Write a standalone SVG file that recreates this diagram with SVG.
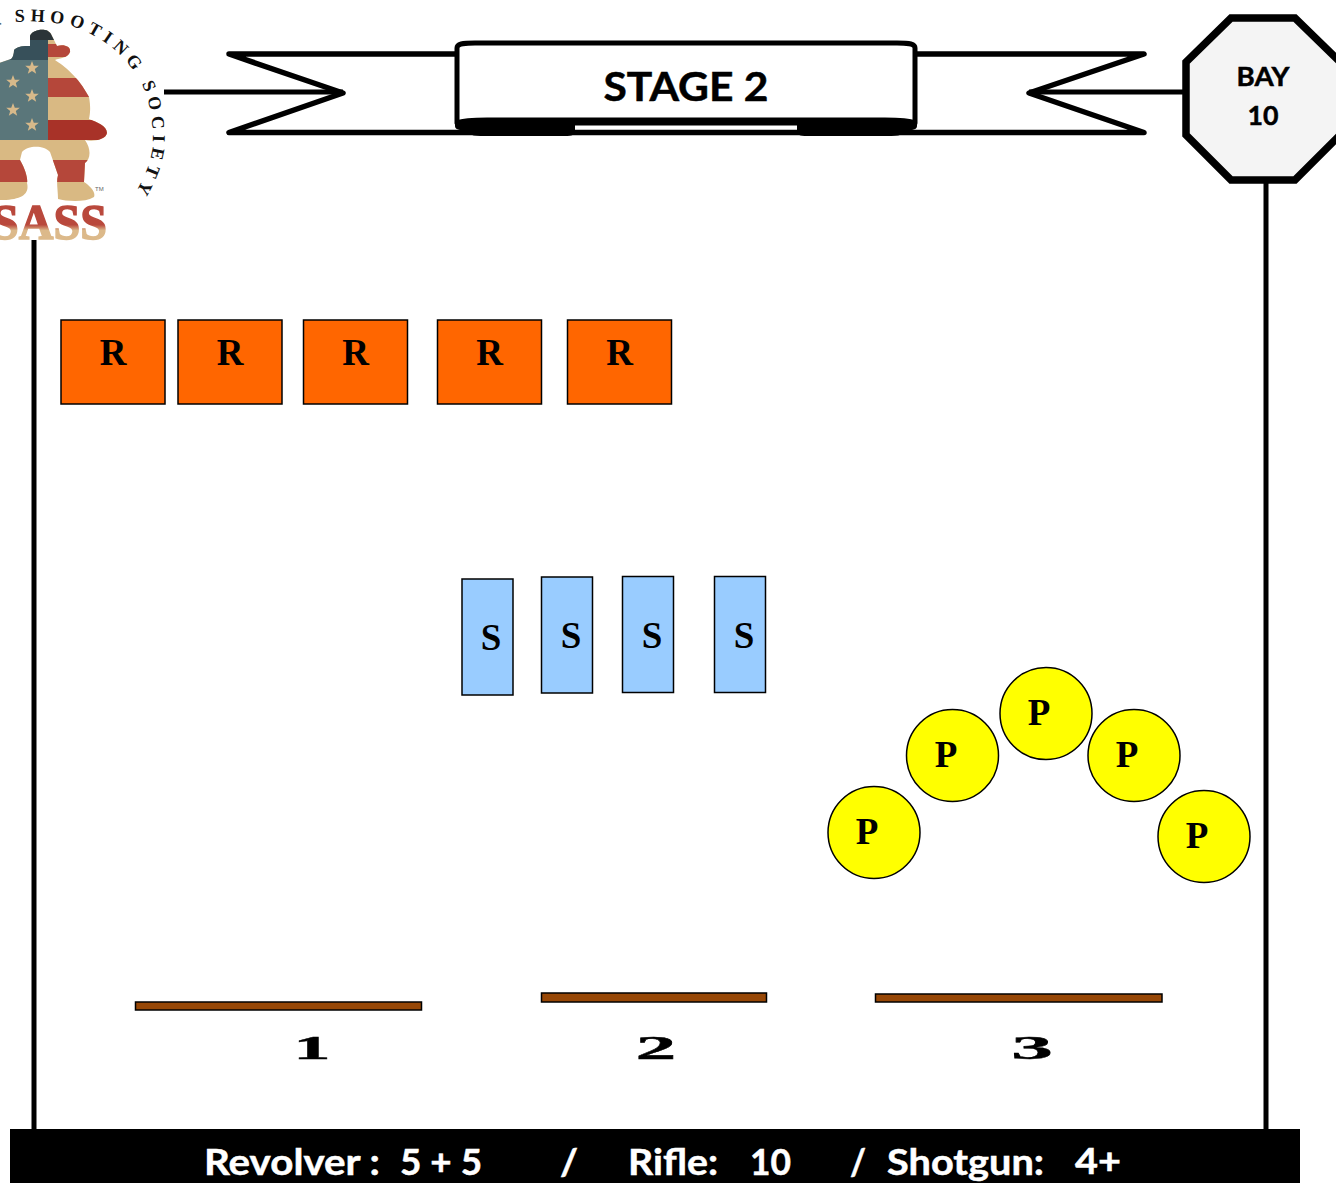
<svg xmlns="http://www.w3.org/2000/svg" width="1336" height="1183" viewBox="0 0 1336 1183">
<style>
.ln{fill:none;stroke:#000;stroke-width:5.500;stroke-linecap:round;stroke-linejoin:round}
.wall{fill:none;stroke:#000;stroke-width:5}
.t{fill:#ff6600;stroke:#000;stroke-width:1.500}
.s{fill:#99ccff;stroke:#000;stroke-width:1.500}
.p{fill:#ffff00;stroke:#000;stroke-width:1.500}
.b{fill:#974706;stroke:#000;stroke-width:1.500}
.lab{font-family:"Liberation Serif",serif;font-weight:700;font-size:37px;text-anchor:middle;fill:#000}
.cal{font-family:Lato,"Liberation Sans",sans-serif;font-weight:700;stroke:#000;stroke-width:.5}
.foot{font-family:Lato,"Liberation Sans",sans-serif;font-weight:700;font-size:37px;fill:#fff;stroke:#fff;stroke-width:.5}
.num{font-family:"Liberation Serif",serif;font-weight:700;font-size:34px;fill:#000;stroke:#000;stroke-width:.4;text-anchor:middle}
.arc{font-family:"Liberation Serif",serif;font-weight:700;font-size:18px;fill:#111}
</style>
<defs>
<clipPath id="fig"><path d="M30 36C32 29 48 27 51 34L57 46C65 44 71 47 70 52C68 58 60 58 55 60C64 66 78 76 89 97C91 108 90 114 89 119C97 122 107 126 107 133C106 140 92 142 85 140C92 150 90 160 85 163L84 182C90 186 96 192 94 197C84 203 66 201 58 199C58 190 56 182 58 175L50 152C44 145 28 145 22 152L20 160C26 170 28 180 27 183C30 195 20 200 0 200L-10 200L-10 66L8 60C12 60 14 56 14 50C18 46 24 46 30 46Z"/></clipPath>
<linearGradient id="sass" x1="0" y1="0" x2="0" y2="1"><stop offset="0" stop-color="#b9483c"/><stop offset=".55" stop-color="#b9483c"/><stop offset=".65" stop-color="#dcb98a"/><stop offset="1" stop-color="#dcb98a"/></linearGradient>
<polygon id="star" points="0,-7 1.800,-2.200 6.800,-2.200 2.800,0.900 4.200,5.800 0,2.900 -4.200,5.800 -2.800,0.900 -6.800,-2.200 -1.800,-2.200" fill="#d7b98a"/>
<path id="arcp" d="M-14 28C5 22 30 19 62 24C78 26 96 36 110 46C128 60 140 78 146 94C152 112 154 135 152 150C150 165 142 182 133 197L125 210"/>
</defs>

<g id="logo">
<g clip-path="url(#fig)">
<rect x="-10" y="25" width="130" height="185" fill="#d9b983"/>
<rect x="-10" y="25" width="58" height="115" fill="#5a767a"/>
<rect x="-10" y="25" width="130" height="15" fill="#2b3438"/>
<rect x="-10" y="40" width="58" height="20" fill="#37505a"/>
<rect x="48" y="44" width="30" height="13" fill="#b5473a"/>
<rect x="48" y="78" width="60" height="19" fill="#b5473a"/>
<rect x="48" y="120" width="65" height="20" fill="#a83228"/>
<rect x="-10" y="160" width="120" height="22" fill="#b5473a"/>
<use href="#star" x="32" y="68"/><use href="#star" x="13" y="82"/><use href="#star" x="32" y="96"/><use href="#star" x="13" y="110"/><use href="#star" x="32" y="125"/>
</g>
<text x="95" y="191" font-family="Liberation Sans,sans-serif" font-size="6" fill="#666">TM</text>
<text x="-8" y="239" font-family="Liberation Serif,serif" font-weight="700" font-size="51" fill="url(#sass)" stroke="url(#sass)" stroke-width="1.500" textLength="115" lengthAdjust="spacingAndGlyphs">SASS</text>
<text class="arc" letter-spacing="5.200"><textPath href="#arcp" startOffset="3">A SHOOTING SOCIETY</textPath></text>
</g>

<g id="connectors">
<path class="wall" d="M34 240V1130"/>
<path class="wall" d="M1266 183V1130"/>
<path class="wall" d="M164 92H343"/>
<path class="wall" d="M1029 92H1183"/>
</g>

<g id="banner">
<path class="ln" d="M457 54H229L343 93L229 132.500H1144L1029 93L1144 54H915"/>
<path d="M455 118V126C455 129 458 130 466 131C470 136 475 136 490 136H565C572 136 575 135 575 131V124H455Z" fill="#000"/>
<path d="M917 118V126C917 129 914 130 906 131C902 136 897 136 882 136H807C800 136 797 135 797 131V124H917Z" fill="#000"/>
<path d="M457 48C457 44 462 43 475 43H897C910 43 915 44 915 48V123C910 121 900 120 885 120H487C472 120 462 121 457 123Z" fill="#fff" stroke="#000" stroke-width="5" stroke-linejoin="round"/>
<path d="M457 123H915" fill="none" stroke="#000" stroke-width="5"/>
<text class="cal" x="686" y="101" font-size="41" text-anchor="middle" textLength="165" lengthAdjust="spacingAndGlyphs">STAGE 2</text>
</g>

<g id="bay">
<polygon points="1231,18 1295,18 1340,62 1340,135 1295,180 1231,180 1186,135 1186,62" fill="#f4f4f4" stroke="#000" stroke-width="7.500"/>
<text class="cal" x="1263" y="86" font-size="27" text-anchor="middle" textLength="53" lengthAdjust="spacingAndGlyphs">BAY</text>
<text class="cal" x="1263" y="125" font-size="27" text-anchor="middle" textLength="31" lengthAdjust="spacingAndGlyphs">10</text>
</g>

<g id="rifle-1"><rect class="t" x="61" y="320" width="104" height="84"/><text class="lab" x="113" y="365">R</text></g>
<g id="rifle-2"><rect class="t" x="178" y="320" width="104" height="84"/><text class="lab" x="230" y="365">R</text></g>
<g id="rifle-3"><rect class="t" x="303.500" y="320" width="104" height="84"/><text class="lab" x="355.500" y="365">R</text></g>
<g id="rifle-4"><rect class="t" x="437.500" y="320" width="104" height="84"/><text class="lab" x="489.500" y="365">R</text></g>
<g id="rifle-5"><rect class="t" x="567.500" y="320" width="104" height="84"/><text class="lab" x="619.500" y="365">R</text></g>

<g id="shotgun-1"><rect class="s" x="462" y="579" width="51" height="116"/><text class="lab" x="491" y="650">S</text></g>
<g id="shotgun-2"><rect class="s" x="541.500" y="577" width="51" height="116"/><text class="lab" x="571" y="648">S</text></g>
<g id="shotgun-3"><rect class="s" x="622.500" y="576.500" width="51" height="116"/><text class="lab" x="652" y="648">S</text></g>
<g id="shotgun-4"><rect class="s" x="714.500" y="576.500" width="51" height="116"/><text class="lab" x="744" y="648">S</text></g>

<g id="pistol-1"><circle class="p" cx="874" cy="832.500" r="46"/><text class="lab" x="867" y="844">P</text></g>
<g id="pistol-2"><circle class="p" cx="952.500" cy="755.500" r="46"/><text class="lab" x="946" y="767">P</text></g>
<g id="pistol-3"><circle class="p" cx="1046" cy="713.500" r="46"/><text class="lab" x="1039" y="725">P</text></g>
<g id="pistol-4"><circle class="p" cx="1134" cy="755.500" r="46"/><text class="lab" x="1127" y="767">P</text></g>
<g id="pistol-5"><circle class="p" cx="1204" cy="836.500" r="46"/><text class="lab" x="1197" y="848">P</text></g>

<g id="position-1"><rect class="b" x="135.500" y="1002" width="286" height="8"/><text class="num" transform="translate(312 1059) scale(2.200 1)">1</text></g>
<g id="position-2"><rect class="b" x="541.500" y="993" width="225" height="9"/><text class="num" transform="translate(656 1059) scale(2.400 1)">2</text></g>
<g id="position-3"><rect class="b" x="875.500" y="994" width="286.500" height="8"/><text class="num" transform="translate(1032 1059) scale(2.450 1)">3</text></g>

<g id="footer">
<rect x="10" y="1129" width="1290" height="54" fill="#000"/>
<text class="foot" x="204" y="1175" textLength="176" lengthAdjust="spacingAndGlyphs">Revolver :</text>
<text class="foot" x="400" y="1175" textLength="82" lengthAdjust="spacingAndGlyphs">5 + 5</text>
<text class="foot" x="560" y="1175" textLength="18" lengthAdjust="spacingAndGlyphs">/</text>
<text class="foot" x="628" y="1175" textLength="90" lengthAdjust="spacingAndGlyphs">Rifle:</text>
<text class="foot" x="750" y="1175" textLength="41" lengthAdjust="spacingAndGlyphs">10</text>
<text class="foot" x="850" y="1175" textLength="16" lengthAdjust="spacingAndGlyphs">/</text>
<text class="foot" x="887" y="1175" textLength="157" lengthAdjust="spacingAndGlyphs">Shotgun:</text>
<text class="foot" x="1075" y="1174" font-size="41" textLength="46" lengthAdjust="spacingAndGlyphs">4+</text>
</g>
</svg>
